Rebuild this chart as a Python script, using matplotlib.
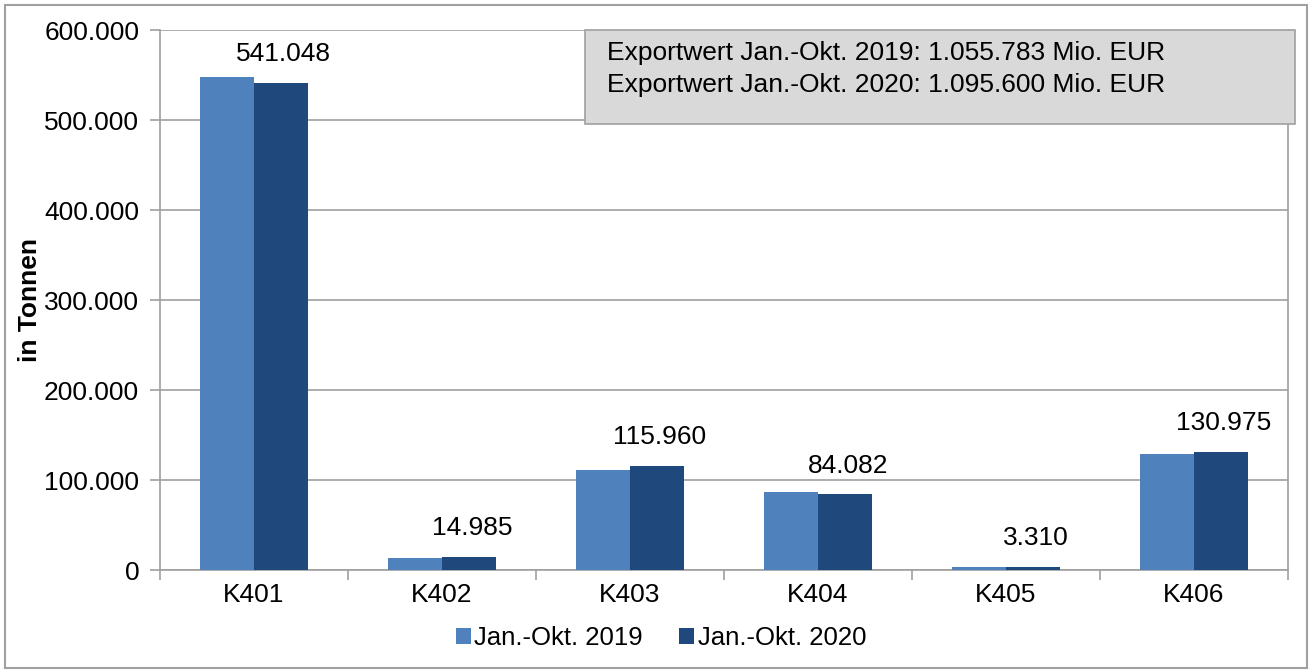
import matplotlib
matplotlib.use("Agg")
import matplotlib.pyplot as plt
from matplotlib.patches import Rectangle
from matplotlib.ticker import FuncFormatter, FixedLocator
import numpy as np

plt.rcParams['font.family'] = ['Liberation Sans', 'DejaVu Sans']
plt.rcParams['font.size'] = 19

categories = ["K401", "K402", "K403", "K404", "K405", "K406"]
series_names = ["Jan.-Okt. 2019", "Jan.-Okt. 2020"]
values_2019 = [548000, 13500, 111000, 86500, 3700, 128500]
values_2020 = [541048, 14985, 115960, 84082, 3310, 130975]
box_lines = ["Exportwert Jan.-Okt. 2019: 1.055.783 Mio. EUR",
             "Exportwert Jan.-Okt. 2020: 1.095.600 Mio. EUR"]

color_2019 = "#4f81bd"
color_2020 = "#1f497d"
grid_color = "#a0a0a0"


def de_format(v, pos=None):
    return "{:,.0f}".format(v).replace(",", ".")


fig = plt.figure(figsize=(13.12, 6.72), dpi=100)
ax = fig.add_axes([160 / 1312, 1 - 570 / 672, (1288 - 160) / 1312, 540 / 672])

x = np.arange(len(categories))
w = 0.287
ax.bar(x - w / 2, values_2019, w, color=color_2019, label=series_names[0], zorder=3)
ax.bar(x + w / 2, values_2020, w, color=color_2020, label=series_names[1], zorder=3)

# value labels above the 2020 bars
for xi, v in zip(x, values_2020):
    ax.annotate(de_format(v), xy=(xi + w / 2, v), xytext=(2, 12),
                textcoords="offset points", ha="center", va="bottom", fontsize=19)

ax.set_xlim(-0.5, len(categories) - 0.5)
ax.set_ylim(0, 600000)
ax.set_yticks(np.arange(0, 600001, 100000))
ax.yaxis.set_major_formatter(FuncFormatter(de_format))
ax.yaxis.grid(True, color=grid_color, linewidth=1.2, zorder=0)

ax.set_xticks(x)
ax.set_xticklabels(categories)
ax.xaxis.set_minor_locator(FixedLocator(np.arange(-0.5, len(categories), 1.0)))
ax.tick_params(axis="x", which="major", length=0, pad=9, labelsize=19)
ax.tick_params(axis="x", which="minor", length=7, color=grid_color, width=1.2)
ax.tick_params(axis="y", length=7, color=grid_color, width=1.2, pad=8, labelsize=19)

for side in ["left", "bottom", "right"]:
    ax.spines[side].set_color(grid_color)
    ax.spines[side].set_linewidth(1.2)
ax.spines["top"].set_visible(False)

fig.text(30 / 1312, 1 - 300 / 672, "in Tonnen", rotation=90, ha="center", va="center",
         fontsize=19, fontweight="bold")

# export value box
fig.patches.append(Rectangle((585 / 1312, 1 - 124 / 672), 710 / 1312, 94 / 672,
                             transform=fig.transFigure, facecolor="#d9d9d9",
                             edgecolor="#a0a0a0", linewidth=1.2, zorder=5))
fig.text(607 / 1312, 1 - 53 / 672, box_lines[0], ha="left", va="center", fontsize=19, zorder=6)
fig.text(607 / 1312, 1 - 85 / 672, box_lines[1], ha="left", va="center", fontsize=19, zorder=6)

# outer frame
fig.patches.append(Rectangle((5 / 1312, 4 / 672), 1302 / 1312, 663 / 672,
                             transform=fig.transFigure, facecolor="none",
                             edgecolor="#a0a0a0", linewidth=1.5))

fig.legend(loc="center", bbox_to_anchor=(661 / 1312, 1 - 638 / 672), ncol=2, frameon=False,
           fontsize=18.5, handlelength=0.6, handleheight=0.6, handletextpad=0.12,
           columnspacing=1.4)

fig.savefig("out.png", dpi=100)
